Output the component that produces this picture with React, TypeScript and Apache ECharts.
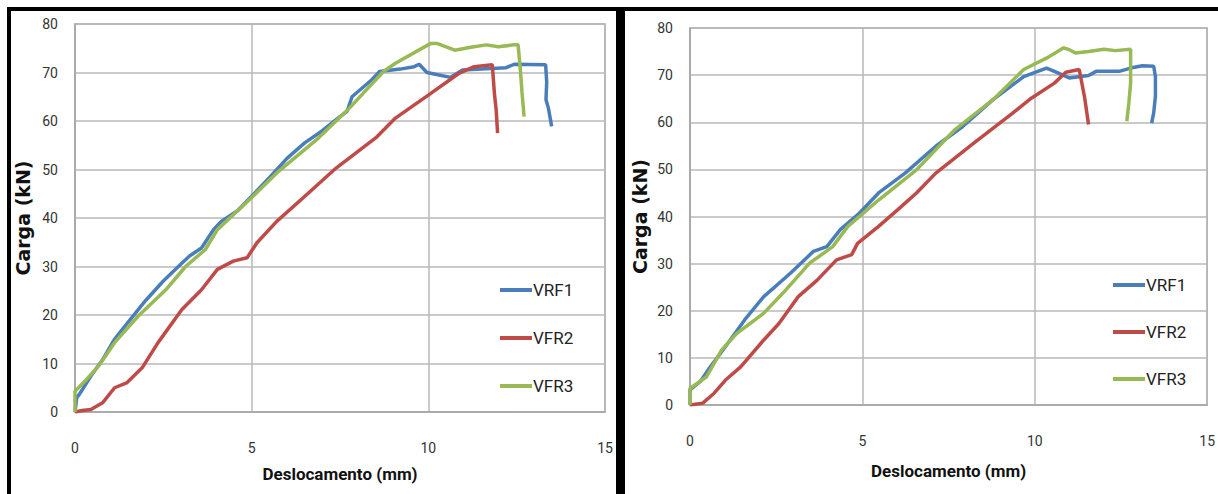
import React, { useEffect, useRef } from "react";
import * as echarts from "echarts";

const seriesNames = ["VRF1", "VFR2", "VFR3"];
const seriesColors = ["#4a7ebb", "#be4b48", "#98b954"];
const xAxisTitle = "Deslocamento (mm)";
const yAxisTitle = "Carga (kN)";

const leftVRF1 = [[0,0],[0.05,3],[0.11,3.5],[0.45,7.4],[0.8,11],[1.12,15],[1.5,18.5],[2,23],[2.5,27],[3,30.5],[3.25,32.2],[3.58,33.8],[3.92,37.6],[4.14,39.3],[4.6,41.5],[5,44.5],[5.5,48.3],[6,52.3],[6.5,55.5],[7,58],[7.5,60.9],[7.7,62],[7.84,65],[8.4,68.5],[8.62,70.2],[9.2,70.7],[9.6,71.2],[9.74,71.7],[9.96,70],[10.3,69.5],[10.63,69],[10.97,70.5],[11.5,70.7],[12.2,71],[12.43,71.7],[13.32,71.6],[13.35,68],[13.33,64.4],[13.4,62.6],[13.49,58.9]];
const leftVFR2 = [[0,0],[0.2,0.3],[0.45,0.5],[0.78,1.9],[1.12,5],[1.46,6],[1.9,9.1],[2.35,14.3],[3.02,21.1],[3.58,25.2],[4.03,29.4],[4.48,31.1],[4.87,31.8],[5.15,34.9],[5.71,39.3],[6.6,45.1],[7.39,50.3],[8.51,56.5],[9.07,60.6],[10.07,65.7],[10.86,69.8],[11.3,71.2],[11.81,71.6],[11.87,65.7],[11.92,62.3],[11.96,57.5]];
const leftVFR3 = [[0,0],[0,4.3],[0.3,6.5],[0.67,9.5],[1.12,14.3],[1.79,19.8],[2.57,25.2],[3.13,30],[3.69,33.5],[4.03,37.6],[5.04,44.5],[5.71,49.3],[6.83,56.1],[7.72,62.3],[8.73,70.2],[9.07,71.9],[10.07,76],[10.24,76],[10.75,74.6],[11.2,75.2],[11.64,75.7],[11.98,75.3],[12.43,75.7],[12.54,75.7],[12.6,71],[12.65,66],[12.71,60.9]];

const rightVRF1 = [[0,0],[0,3.2],[0.3,5],[0.59,8.1],[1.03,12.4],[1.59,18.1],[2.14,23],[2.92,28],[3.58,32.6],[3.97,33.6],[4.36,37.2],[4.91,40.7],[5.47,45],[6.24,49.2],[7.13,54.9],[7.91,59.1],[8.79,64.8],[9.68,69.7],[10.34,71.5],[10.57,70.8],[11.0,69.4],[11.56,69.9],[11.78,70.8],[12.45,70.8],[12.78,71.5],[13.12,72],[13.45,71.9],[13.5,69.7],[13.5,65.5],[13.45,62],[13.39,59.8]];
const rightVFR2 = [[0,0],[0.37,0.4],[0.7,2.5],[1.03,5.3],[1.47,8.1],[2.14,13.8],[2.58,17.3],[3.14,23],[3.69,26.5],[4.25,30.8],[4.69,31.9],[4.86,34.3],[5.47,37.9],[6.02,41.4],[6.57,45],[7.13,49.2],[8.24,55.6],[9.35,61.9],[9.9,65.1],[10.57,68.3],[10.9,70.6],[11.29,71.2],[11.45,65.1],[11.56,59.5]];
const rightVFR3 = [[0,0],[0,3.5],[0.48,6],[0.92,11.7],[1.36,15.2],[2.14,19.5],[2.69,23.7],[3.47,30.1],[4.14,33.6],[4.58,37.9],[5.47,43.5],[6.57,49.9],[7.68,58.4],[8.79,64.8],[9.68,71.2],[10.34,73.6],[10.84,75.8],[11.0,75.4],[11.18,74.7],[11.56,75],[12.01,75.5],[12.34,75.2],[12.78,75.5],[12.78,68.3],[12.73,64.1],[12.67,60.2]];

const leftData = [leftVRF1, leftVFR2, leftVFR3];
const rightData = [rightVRF1, rightVFR2, rightVFR3];

const narrow = "Roboto, sans-serif";

function makeX(gridIndex: number, nameGap: number) {
  return {
    type: "value",
    gridIndex,
    min: 0,
    max: 15,
    interval: 5,
    name: xAxisTitle,
    nameLocation: "middle",
    nameGap,
    nameTextStyle: { fontFamily: narrow, fontWeight: "bold", fontSize: 17, color: "#111" },
    axisLine: { show: true, lineStyle: { color: "#a6a6a6", width: 1.5 } },
    axisTick: { show: false },
    axisLabel: { margin: 29, fontFamily: narrow, fontSize: 14, color: "#333" },
    splitLine: { show: true, lineStyle: { color: "#b8b8b8", width: 1.5 } },
  };
}

function makeY(gridIndex: number, nameGap: number) {
  return {
    type: "value",
    gridIndex,
    min: 0,
    max: 80,
    interval: 10,
    name: yAxisTitle,
    nameLocation: "middle",
    nameGap,
    nameTextStyle: { fontFamily: "'DejaVu Sans', sans-serif", fontWeight: "bold", fontSize: 19, color: "#111" },
    axisLine: { show: true, lineStyle: { color: "#a6a6a6", width: 1.5 } },
    axisTick: { show: false },
    axisLabel: { margin: 17, fontFamily: narrow, fontSize: 14, color: "#333" },
    splitLine: { show: true, lineStyle: { color: "#b8b8b8", width: 1.5 } },
  };
}

function makeLegend(left: number, top: number, gap: number) {
  return {
    orient: "vertical",
    left,
    top,
    icon: "rect",
    itemWidth: 32,
    itemHeight: 4,
    itemGap: gap,
    data: seriesNames,
    textStyle: { fontFamily: narrow, fontSize: 17, color: "#222", lineHeight: 18, padding: [0, 0, 0, -4] },
  };
}

export default function App() {
  const ref = useRef<HTMLDivElement>(null);
  useEffect(() => {
    if (!ref.current) return;
    const chart = echarts.init(ref.current, undefined, { renderer: "svg" });
    const series: any[] = [];
    [leftData, rightData].forEach((set, gi) => {
      set.forEach((d, i) => {
        series.push({
          type: "line",
          name: seriesNames[i],
          xAxisIndex: gi,
          yAxisIndex: gi,
          data: d,
          symbol: "none",
          smooth: false,
          color: seriesColors[i],
          lineStyle: { color: seriesColors[i], width: 3.5 },
        });
      });
    });
    chart.setOption({
      animation: false,
      backgroundColor: "#ffffff",
      grid: [
        { left: 75, top: 24, width: 530, height: 388, show: true, borderColor: "#a6a6a6", borderWidth: 1.5, backgroundColor: "transparent" },
        { left: 690, top: 28, width: 523, height: 377, show: true, borderColor: "#a6a6a6", borderWidth: 1.5, backgroundColor: "transparent" },
      ],
      xAxis: [makeX(0, 53), makeX(1, 57)],
      yAxis: [makeY(0, 43), makeY(1, 41)],
      legend: [makeLegend(495, 276, 30), makeLegend(1108, 271, 29)],
      series,
      graphic: [
        { type: "rect", shape: { x: 7, y: 7, width: 1211, height: 4 }, style: { fill: "#000" }, z: 100 },
        { type: "rect", shape: { x: 7, y: 7, width: 4, height: 487 }, style: { fill: "#000" }, z: 100 },
        { type: "rect", shape: { x: 616, y: 7, width: 9, height: 487 }, style: { fill: "#000" }, z: 100 },
      ],
    });
    return () => chart.dispose();
  }, []);
  return (
    <div
      ref={ref}
      style={{ position: "fixed", left: 0, top: 0, width: 1218, height: 494, background: "#fff" }}
    />
  );
}
